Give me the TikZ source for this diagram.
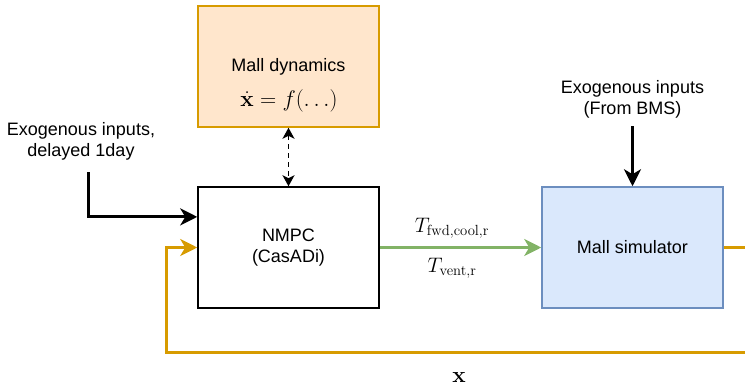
\RequirePackage{fix-cm}
\documentclass[tikz,border=0pt]{standalone}
\usepackage{amsmath}
\usepackage[no-math]{fontspec}
\setmainfont{Liberation Sans}
\usetikzlibrary{arrows.meta,calc}
\definecolor{dynfill}{HTML}{FFE6CC}
\definecolor{dynstroke}{HTML}{D79B00}
\definecolor{simfill}{HTML}{DAE8FC}
\definecolor{simstroke}{HTML}{6C8EBF}
\definecolor{grn}{HTML}{82B366}
\definecolor{org}{HTML}{D79B00}
\tikzset{
  bigtip/.tip={Stealth[length=17pt,width=17pt,inset=5pt]},
  smalltip/.tip={Stealth[length=11pt,width=12pt,inset=3pt]},
  box/.style={draw, line width=1.5pt, minimum width=181pt, minimum height=121pt,
    inner sep=0pt, align=center, font=\fontsize{18}{21}\selectfont},
  txt/.style={inner sep=0pt, align=center, font=\fontsize{18}{21}\selectfont},
  mth/.style={inner sep=0pt, font=\fontsize{21}{25}\selectfont},
  bigmth/.style={inner sep=0pt, font=\fontsize{22.5}{27}\selectfont},
  blk/.style={draw=black, line width=3pt, -bigtip},
  orgline/.style={draw=org, line width=3pt, -bigtip},
  grnline/.style={draw=grn, line width=3pt, -bigtip},
  dashline/.style={draw=black, line width=1.8pt, dash pattern=on 5pt off 4pt, smalltip-smalltip},
}
\begin{document}
\begin{tikzpicture}[x=1pt,y=-1pt]
\useasboundingbox (0,0) rectangle (745,388);
\clip (0,0) rectangle (745,388);
% boxes
\node[box, draw=dynstroke, fill=dynfill] (dyn) at (288.5,66.5) {};
\node[txt] (dyntxt) at (288.5,67) {Mall dynamics};
\node[bigmth] (dyneq) at (289,101) {$\dot{\mathbf{x}} = f(\ldots)$};
\node[box, fill=white] (nmpc) at (288.5,247.5) {NMPC\\(CasADi)};
\node[box, draw=simstroke, fill=simfill] (sim) at (632.5,247.5) {Mall simulator};
% dashed link
\draw[dashline] (dyn.south) -- (nmpc.north);
% exogenous left
\node[txt] (exoL) at (81,141.5) {Exogenous inputs,\\delayed 1day};
\coordinate (exoLs) at (88,172);
\coordinate (nin) at ($(nmpc.north west)!0.25!(nmpc.south west)$);
\draw[blk] (exoLs) |- (nin);
% exogenous right
\node[txt] (exoR) at (632.5,99) {Exogenous inputs\\(From BMS)};
\coordinate (exoRs) at (632.5,126);
\draw[blk] (exoRs) -- (sim.north);
% control signals
\draw[grnline] (nmpc.east) -- (sim.west);
\node[mth] (tfwd) at (452,228) {$T_{\mathrm{fwd,cool,r}}$};
\node[mth] (tvent) at (452,268) {$T_{\mathrm{vent,r}}$};
% feedback
\coordinate (fr) at (760,247.5);
\coordinate (fl) at (166,352.7);
\draw[orgline] (sim.east) -- (fr) |- (fl) |- (nmpc.west);
\node[bigmth] (xlab) at (459,377) {$\mathbf{x}$};
\end{tikzpicture}
\end{document}
